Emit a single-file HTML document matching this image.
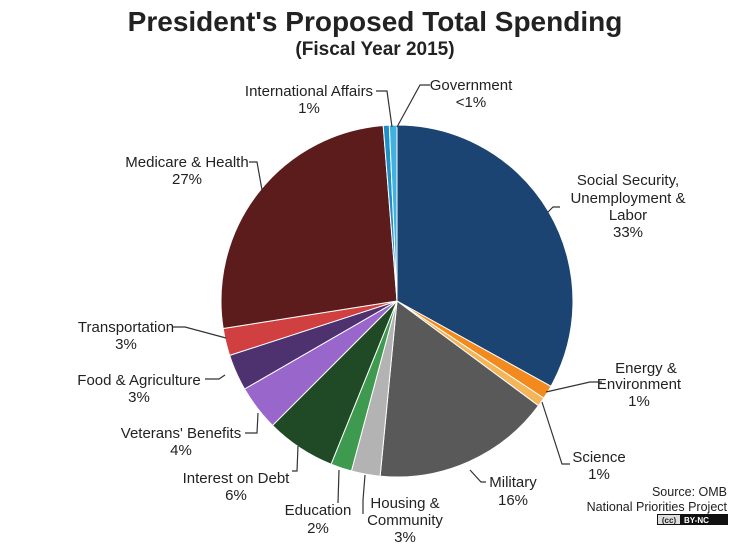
<!DOCTYPE html>
<html><head><meta charset="utf-8"><style>
body{margin:0;background:#fff;width:750px;height:560px;overflow:hidden}
svg{display:block}
text{font-family:"Liberation Sans",Arial,sans-serif;fill:#222;font-size:15px}
.t{font-weight:bold;font-size:28px}
.s{font-weight:bold;font-size:19px}
</style></head><body>
<svg id="s" width="750" height="560" xmlns="http://www.w3.org/2000/svg">
<text class="t" x="375" y="31" text-anchor="middle">President's Proposed Total Spending</text>
<text class="s" x="375" y="55" text-anchor="middle">(Fiscal Year 2015)</text>
<g id="pie"></g>
<g fill="none" stroke="#333" stroke-width="1.2">
<polyline points="376,91 387,91 392,127"/>
<polyline points="430,85 420,85 397,127"/>
<polyline points="560,207 553,207 548,212"/>
<polyline points="602,382 590,382 546,392"/>
<polyline points="570,464 562,464 542,402"/>
<polyline points="486,482 481,482 470,470"/>
<polyline points="363,514 363,500 365,475"/>
<polyline points="338,503 339,470"/>
<polyline points="292,471 297,471 298,446"/>
<polyline points="245,433 257,433 258,413"/>
<polyline points="205,379 219,379 225,375"/>
<polyline points="173,327 185,327 226,338"/>
<polyline points="249,162 257,162 262,190"/>
</g>
<g text-anchor="middle">
<text x="309" y="96">International  Affairs</text><text x="309" y="113">1%</text>
<text x="471" y="90">Government</text><text x="471" y="107">&lt;1%</text>
<text x="628" y="185">Social Security,</text><text x="628" y="203">Unemployment &amp;</text><text x="628" y="220">Labor</text><text x="628" y="237">33%</text>
<text x="646" y="373">Energy &amp;</text><text x="639" y="389">Environment</text><text x="639" y="406">1%</text>
<text x="599" y="462">Science</text><text x="599" y="479">1%</text>
<text x="513" y="487">Military</text><text x="513" y="505">16%</text>
<text x="405" y="508">Housing &amp;</text><text x="405" y="525">Community</text><text x="405" y="542">3%</text>
<text x="318" y="515">Education</text><text x="318" y="533">2%</text>
<text x="236" y="483">Interest on Debt</text><text x="236" y="500">6%</text>
<text x="181" y="438">Veterans'  Benefits</text><text x="181" y="455">4%</text>
<text x="139" y="385">Food &amp; Agriculture</text><text x="139" y="402">3%</text>
<text x="126" y="332">Transportation</text><text x="126" y="349">3%</text>
<text x="187" y="167">Medicare  &amp; Health</text><text x="187" y="184">27%</text>
</g>
<g text-anchor="end">
<text x="727" y="496" style="font-size:12.5px">Source: OMB</text>
<text x="727" y="511" style="font-size:12.5px">National Priorities Project</text>
</g>
<rect x="657" y="514" width="71" height="11" fill="#111"/>
<rect x="658" y="515" width="22" height="9" fill="#ddd"/>
<text x="669" y="523" text-anchor="middle" style="font-size:8px;font-weight:bold">(cc)</text>
<text x="684" y="523" style="font-size:8px;font-weight:bold;fill:#fff">BY-NC</text>
</svg>
<script>
var cx=397,cy=301,r=176;
var d=[[0,119,"#1b4472"],[119,123.5,"#f28a1e"],[123.5,126.5,"#f3b45a"],[126.5,185.5,"#595959"],[185.5,195,"#b3b3b3"],[195,202,"#3e9a4e"],[202,225,"#1f4a25"],[225,240,"#9966cc"],[240,252,"#4e3270"],[252,261,"#d04040"],[261,355.5,"#5c1c1c"],[355.5,357.5,"#1e8fc8"],[357.5,360,"#3fb2e2"]];
var g=document.getElementById("pie"),h="";
function p(a){a=a*Math.PI/180;return (cx+r*Math.sin(a)).toFixed(2)+","+(cy-r*Math.cos(a)).toFixed(2);}
d.forEach(function(s){var l=(s[1]-s[0])>180?1:0;h+='<path d="M'+cx+','+cy+' L'+p(s[0])+' A'+r+','+r+' 0 '+l+' 1 '+p(s[1])+' Z" fill="'+s[2]+'" stroke="#fff" stroke-width="1"/>';});
g.innerHTML=h;
</script>
</body></html>
